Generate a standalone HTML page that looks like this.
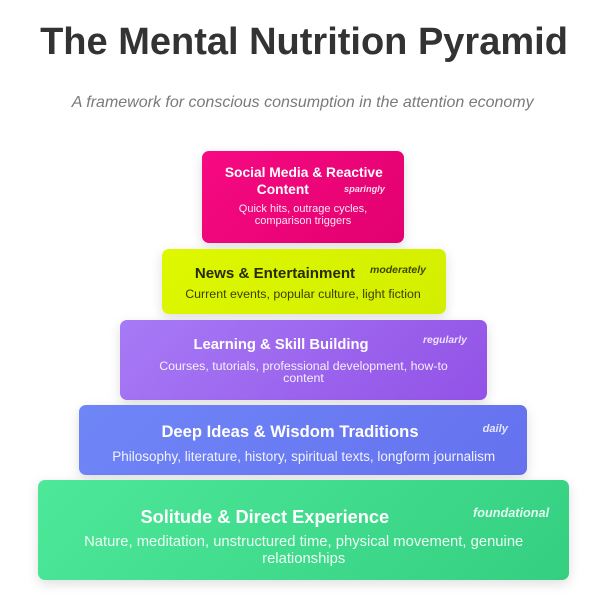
<!DOCTYPE html>
<html>
<head>
<meta charset="utf-8">
<style>
  html,body{margin:0;padding:0;background:#ffffff;}
  body{width:608px;height:600px;position:relative;overflow:hidden;font-family:"Liberation Sans",Arial,sans-serif;}
  .box{position:absolute;border-radius:7px;box-shadow:0 4px 12px rgba(0,0,0,0.13);}
  .t{position:absolute;white-space:nowrap;line-height:1;}
  .c{width:600px;text-align:center;}
  .b{font-weight:bold;}
  .lab{font-weight:bold;font-style:italic;}
</style>
</head>
<body>
  <div class="t c b" style="left:4px;top:22.8px;font-size:38px;color:#333333;">The Mental Nutrition Pyramid</div>
  <div class="t c" style="left:2.7px;top:94.8px;font-size:16px;font-style:italic;color:#7a7a7a;">A framework for conscious consumption in the attention economy</div>

  <!-- boxes -->
  <div class="box" style="left:202px;top:151px;width:202px;height:92px;background:linear-gradient(135deg,#f70a82,#e2006f);"></div>
  <div class="box" style="left:162px;top:249px;width:284px;height:65px;background:linear-gradient(135deg,#def800,#d3ee00);"></div>
  <div class="box" style="left:120px;top:320px;width:367px;height:80px;background:linear-gradient(135deg,#a77af6,#9252e6);"></div>
  <div class="box" style="left:79px;top:405px;width:448px;height:70px;background:linear-gradient(135deg,#6f86f7,#6571ee);"></div>
  <div class="box" style="left:38px;top:480px;width:531px;height:100px;background:linear-gradient(135deg,#4de899,#34cf80);"></div>

  <!-- pink -->
  <div class="t c b" style="left:3.8px;top:166px;font-size:13.8px;color:#ffffff;">Social Media &amp; Reactive</div>
  <div class="t c b" style="left:-17.2px;top:183.3px;font-size:13.8px;color:#ffffff;">Content</div>
  <div class="t lab" style="left:344px;top:184.5px;font-size:9.2px;color:rgba(255,255,255,0.85);">sparingly</div>
  <div class="t c" style="left:3px;top:204.2px;font-size:11px;color:rgba(255,255,255,0.9);">Quick hits, outrage cycles,</div>
  <div class="t c" style="left:3px;top:216.2px;font-size:11px;color:rgba(255,255,255,0.9);">comparison triggers</div>

  <!-- yellow -->
  <div class="t c b" style="left:-25px;top:265.5px;font-size:15.1px;color:#272b00;">News &amp; Entertainment</div>
  <div class="t lab" style="left:370px;top:265.1px;font-size:10.5px;color:#3f4600;">moderately</div>
  <div class="t c" style="left:3px;top:287.8px;font-size:12.4px;color:#3a4000;">Current events, popular culture, light fiction</div>

  <!-- purple -->
  <div class="t c b" style="left:-19px;top:337.5px;font-size:14.8px;color:#ffffff;">Learning &amp; Skill Building</div>
  <div class="t lab" style="left:423px;top:336.2px;font-size:10.4px;color:rgba(255,255,255,0.82);">regularly</div>
  <div class="t c" style="left:3.5px;top:359.5px;font-size:12.4px;color:rgba(255,255,255,0.9);">Courses, tutorials, professional development, how-to</div>
  <div class="t c" style="left:3.5px;top:372.2px;font-size:12.4px;color:rgba(255,255,255,0.9);">content</div>

  <!-- blue -->
  <div class="t c b" style="left:-10px;top:423.75px;font-size:16.6px;color:#ffffff;">Deep Ideas &amp; Wisdom Traditions</div>
  <div class="t lab" style="left:482.6px;top:423.6px;font-size:11.1px;color:rgba(255,255,255,0.82);">daily</div>
  <div class="t c" style="left:3.7px;top:450.3px;font-size:13.5px;color:rgba(255,255,255,0.9);">Philosophy, literature, history, spiritual texts, longform journalism</div>

  <!-- green -->
  <div class="t c b" style="left:-35.2px;top:507.6px;font-size:18.2px;color:#ffffff;">Solitude &amp; Direct Experience</div>
  <div class="t lab" style="left:473px;top:507.05px;font-size:12.7px;color:rgba(255,255,255,0.85);">foundational</div>
  <div class="t c" style="left:3.7px;top:535.1px;font-size:14.8px;color:rgba(255,255,255,0.9);">Nature, meditation, unstructured time, physical movement, genuine</div>
  <div class="t c" style="left:3.7px;top:552px;font-size:14.8px;color:rgba(255,255,255,0.9);">relationships</div>
</body>
</html>
